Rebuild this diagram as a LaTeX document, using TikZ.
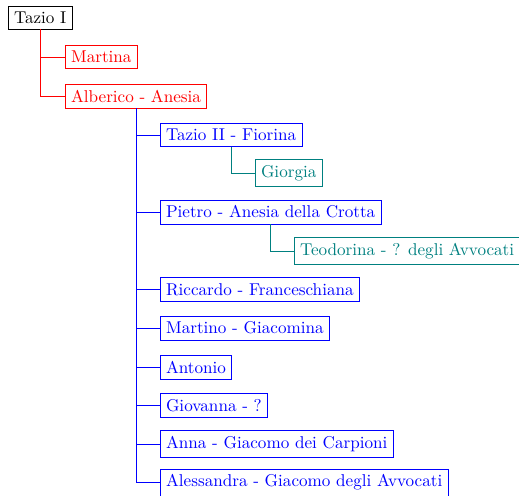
\documentclass[tikz,border=0pt]{standalone}
\usepackage{tikz}
\tikzset{
  person/.style={draw, anchor=west, inner sep=3.333pt, line width=0.4pt},
  gen0/.style={person, draw=black, text=black},
  gen1/.style={person, draw=red, text=red},
  gen2/.style={person, draw=blue, text=blue},
  gen3/.style={person, draw=teal, text=teal},
  link/.style={line width=0.5pt}
}
\begin{document}
\begin{tikzpicture}[x=0.584pt, y=-0.584pt]
\useasboundingbox (0,0) rectangle (519,495);
\node[gen0] (tazio) at (8,17.5) {Tazio I};
\node[gen1] (martina) at (65,57) {Martina};
\node[gen1] (alberico) at (65,96) {Alberico - Anesia};
\node[gen2] (tazioii) at (160,135) {Tazio II - Fiorina};
\node[gen3] (giorgia) at (255,173) {Giorgia};
\node[gen2] (pietro) at (160,212) {Pietro - Anesia della Crotta};
\node[gen3] (teodorina) at (294,251) {Teodorina - ? degli Avvocati};
\node[gen2] (riccardo) at (160,289.5) {Riccardo - Franceschiana};
\node[gen2] (martino) at (160,328) {Martino - Giacomina};
\node[gen2] (antonio) at (160,367) {Antonio};
\node[gen2] (giovanna) at (160,405.5) {Giovanna - ?};
\node[gen2] (anna) at (160,444) {Anna - Giacomo dei Carpioni};
\node[gen2] (alessandra) at (160,482.5) {Alessandra - Giacomo degli Avvocati};
\draw[link, red] (tazio.south) |- (martina.west);
\draw[link, red] (tazio.south) |- (alberico.west);
\foreach \c in {tazioii,pietro,riccardo,martino,antonio,giovanna,anna,alessandra}
  \draw[link, blue] (alberico.south) |- (\c.west);
\draw[link, teal] (tazioii.south) |- (giorgia.west);
\draw[link, teal] (pietro.south) |- (teodorina.west);
\end{tikzpicture}
\end{document}
